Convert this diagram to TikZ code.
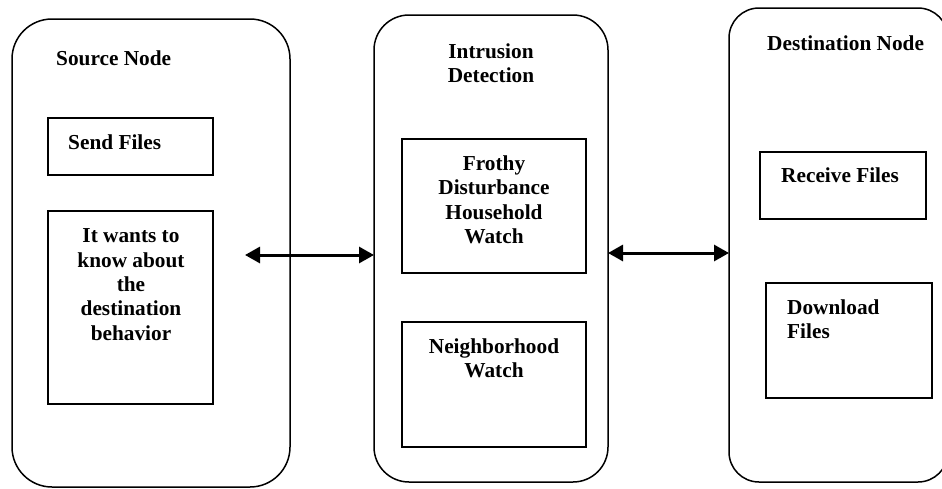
\documentclass[tikz,border=0pt]{standalone}
\usepackage{fontspec}
\setmainfont{Liberation Serif}
\usetikzlibrary{arrows.meta}
\tikzset{
  outerbox/.style={draw, line width=1.5pt, inner sep=0pt, outer sep=0pt},
  innerbox/.style={draw, line width=1.5pt, inner sep=0pt, outer sep=0pt},
  lbl/.style={inner sep=0pt, font=\bfseries\fontsize{21.3}{24.4}\selectfont},
  dbl/.style={line width=3pt, {Triangle[length=15pt,width=16pt]}-{Triangle[length=15pt,width=16pt]}}
}
\begin{document}
\begin{tikzpicture}[x=1pt,y=-1pt]
\useasboundingbox (0,0) rectangle (942,488);
% outer rounded boxes
\node[outerbox, rounded corners=40pt, minimum width=278pt, minimum height=468pt] (src) at (151,253) {};
\node[outerbox, rounded corners=35pt, minimum width=234pt, minimum height=467pt] (ids) at (491,248.5) {};
\node[outerbox, rounded corners=30pt, minimum width=219pt, minimum height=474pt] (dst) at (838.5,245) {};
% inner boxes
\node[innerbox, minimum width=165pt, minimum height=57pt] (send) at (130.5,146.5) {};
\node[innerbox, minimum width=165pt, minimum height=193pt] (want) at (130.5,307.5) {};
\node[innerbox, minimum width=184pt, minimum height=134pt] (frothy) at (494,206) {};
\node[innerbox, minimum width=184pt, minimum height=125pt] (neigh) at (494,384.5) {};
\node[innerbox, minimum width=166pt, minimum height=67pt] (recv) at (843,185.5) {};
\node[innerbox, minimum width=166pt, minimum height=115pt] (down) at (849,340.5) {};
% labels
\node[lbl, anchor=north west] (tsrc) at (56,50.5) {Source Node};
\node[lbl, anchor=north west] (tsend) at (68,134.5) {Send Files};
\node[lbl, anchor=north, align=center] (twant) at (131,228.5) {It wants to\\know about\\the\\destination\\behavior};
\node[lbl, anchor=north, align=center] (tids) at (491,43.5) {Intrusion\\Detection};
\node[lbl, anchor=north, align=center] (tfrothy) at (494,155.5) {Frothy\\Disturbance\\Household\\Watch};
\node[lbl, anchor=north, align=center] (tneigh) at (494,338.5) {Neighborhood\\Watch};
\node[lbl, anchor=north west] (tdst) at (767,35.5) {Destination Node};
\node[lbl, anchor=north west] (trecv) at (781,167.5) {Receive Files};
\node[lbl, anchor=north west, align=left] (tdown) at (787,299.5) {Download\\Files};
% connectors
\coordinate (a1) at (245,255);
\coordinate (a2) at (608,253);
\draw[dbl] (a1) -- (a1 -| ids.west);
\draw[dbl] (a2 -| ids.east) -- (a2 -| dst.west);
\end{tikzpicture}
\end{document}
